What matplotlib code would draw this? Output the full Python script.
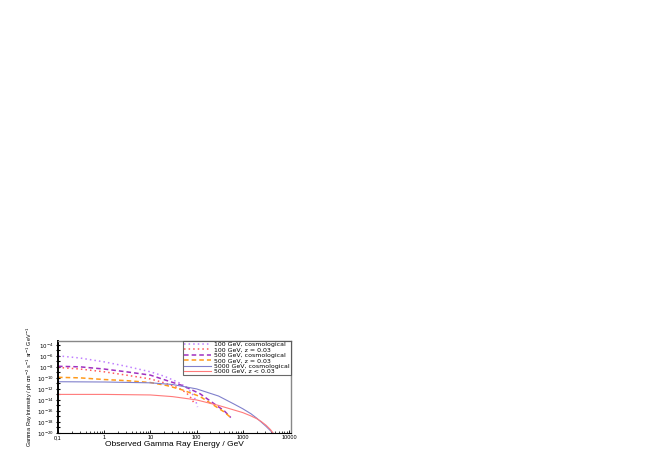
import matplotlib.pyplot as plt
import numpy as np
from matplotlib.ticker import FixedLocator, NullFormatter

plt.rcParams['font.family'] = ['Liberation Sans', 'DejaVu Sans']

# energies (GeV) and log10 intensity
e_100 = [0.1, 0.3, 1, 3, 10, 20, 40, 60, 80, 95, 105]
cos_100 = [-6.0, -6.4, -7.1, -7.9, -8.9, -9.7, -10.8, -11.7, -12.8, -14.0, -15.3]
e_100z = [0.1, 0.3, 1, 3, 10, 20, 40, 60, 75, 86]
loc_100 = [-8.1, -8.4, -8.9, -9.5, -10.2, -10.9, -11.8, -12.7, -13.6, -14.4]

e_500 = [0.1, 0.3, 1, 3, 10, 23, 50, 120, 250, 400, 550]
cos_500 = [-7.9, -8.0, -8.4, -8.9, -9.5, -10.5, -11.4, -12.9, -14.8, -16.0, -17.2]
loc_500 = [-9.9, -10.0, -10.3, -10.5, -10.85, -11.4, -12.2, -13.4, -15.1, -16.2, -17.2]

e_5000 = [0.1, 1, 10, 30, 100, 300, 630, 1000, 1500, 2000, 2500, 3200, 4000, 4600]
cos_5000 = [-10.7, -10.75, -10.9, -11.2, -12.0, -13.3, -14.7, -15.6, -16.5, -17.3, -18.0, -18.8, -19.6, -20.1]
loc_5000 = [-13.0, -13.0, -13.1, -13.4, -14.0, -15.0, -15.8, -16.3, -16.9, -17.4, -17.9, -18.6, -19.4, -20.1]

labels = ['100 GeV, cosmological', '100 GeV, z = 0.03', '500 GeV, cosmological',
          '500 GeV, z = 0.03', '5000 GeV, cosmological', '5000 GeV, z < 0.03']
x_ticks = [0.1, 1, 10, 100, 1000, 10000]
x_ticklabels = ['0,1', '1', '10', '100', '1000', '10000']
y_exps = [-4, -6, -8, -10, -12, -14, -16, -18, -20]

fig = plt.figure(figsize=(6.54, 4.58), dpi=100)
ax = fig.add_axes([0.0887, 0.0546, 0.356, 0.201])

ax.plot(e_100, 10.0**np.array(cos_100), color='#c080ff', ls=(0, (1, 2)), lw=1.1, label=labels[0])
ax.plot(e_100z, 10.0**np.array(loc_100), color='#ff5a5a', ls=(0, (1, 2)), lw=1.1, label=labels[1])
ax.plot(e_500, 10.0**np.array(cos_500), color='#a030c0', ls=(0, (3, 2)), lw=1.1, label=labels[2])
ax.plot(e_500, 10.0**np.array(loc_500), color='#ff9a1a', ls=(0, (3, 2)), lw=1.1, label=labels[3])
ax.plot(e_5000, 10.0**np.array(cos_5000), color='#8080cc', lw=0.8, label=labels[4])
ax.plot(e_5000, 10.0**np.array(loc_5000), color='#ff7a7a', lw=0.8, label=labels[5])

ax.set_xscale('log')
ax.set_yscale('log')
ax.set_xlim(0.1, 11000)
ax.set_ylim(1e-20, 5e-4)

ax.xaxis.set_major_locator(FixedLocator(x_ticks))
ax.set_xticklabels(x_ticklabels)
ax.yaxis.set_major_locator(FixedLocator([10.0**p for p in y_exps]))
ax.yaxis.set_minor_locator(FixedLocator([10.0**p for p in range(-20, -3, 1)]))
ax.yaxis.set_minor_formatter(NullFormatter())
ax.set_yticklabels(['$10^{%d}$' % p for p in y_exps])

ax.tick_params(axis='both', which='major', labelsize=4, length=2.5, width=0.6, pad=1.5)
ax.tick_params(axis='y', which='both', direction='inout', length=3, width=0.8)
ax.tick_params(axis='x', which='minor', direction='in', length=1.5, width=0.5)
ax.tick_params(axis='x', which='major', direction='in')

ax.spines['left'].set_linewidth(1.4)
ax.spines['bottom'].set_linewidth(0.8)
for s in ['top', 'right']:
    ax.spines[s].set_color('#888888')
    ax.spines[s].set_linewidth(1.0)

ax.set_xlabel('Observed Gamma Ray Energy / GeV', fontsize=6, labelpad=1)
ax.set_ylabel('Gamma Ray Intensity / ph cm$^{-2}$ s$^{-1}$ sr$^{-1}$ GeV$^{-1}$', fontsize=4, labelpad=1)

leg = ax.legend(loc='upper right', prop={'family': 'DejaVu Sans', 'size': 4.5}, frameon=True,
                fancybox=False, borderaxespad=0, handlelength=4.4, labelspacing=0.0,
                borderpad=0.15, handletextpad=0.5)
leg.get_frame().set_edgecolor('#444444')
leg.get_frame().set_linewidth(0.8)

plt.savefig('out.png', dpi=100)
